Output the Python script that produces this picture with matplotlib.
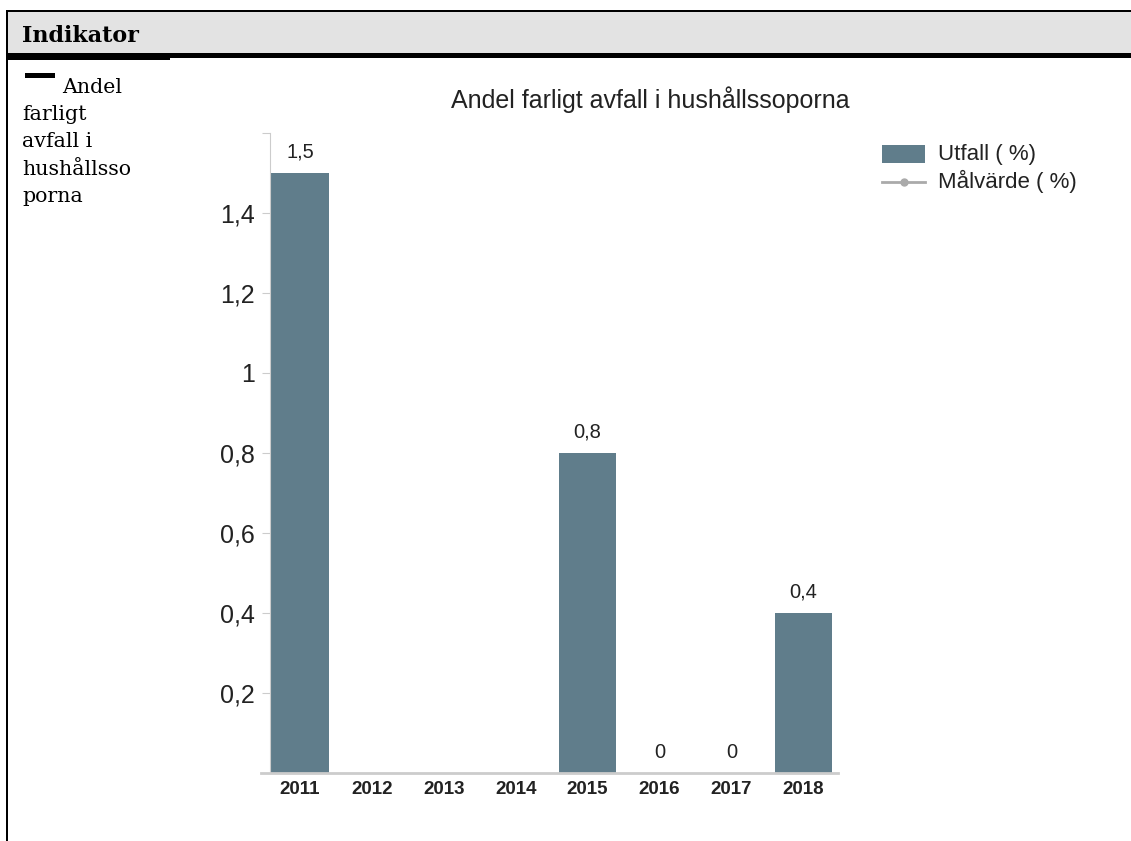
import matplotlib
matplotlib.use("Agg")
import matplotlib.pyplot as plt
from matplotlib.patches import Rectangle

# data
years = ["2011", "2012", "2013", "2014", "2015", "2016", "2017", "2018"]
utfall = [1.5, None, None, None, 0.8, 0, 0, 0.4]
ytick_values = [0.2, 0.4, 0.6, 0.8, 1.0, 1.2, 1.4]
ytick_labels = ["0,2", "0,4", "0,6", "0,8", "1", "1,2", "1,4"]
title = "Andel farligt avfall i hushållssoporna"
legend_labels = ["Utfall ( %)", "Målvärde ( %)"]
header = "Indikator"
side_lines = ["Andel", "farligt", "avfall i", "hushållsso", "porna"]

W, H = 1131, 841
bar_color = "#607D8B"
grey = "#cccccc"
sans = "Liberation Sans"
serif = "DejaVu Serif"
txt = "#222222"


def px_box(x0, y0, x1, y1):
    # pixel box (top-left origin) -> figure fraction [left, bottom, width, height]
    return [x0 / W, 1 - y1 / H, (x1 - x0) / W, (y1 - y0) / H]


fig = plt.figure(figsize=(W / 100, H / 100), dpi=100)

# page frame: header band, left border, side text, legend
page = fig.add_axes([0, 0, 1, 1])
page.set_xlim(0, W)
page.set_ylim(H, 0)
page.axis("off")
page.add_patch(Rectangle((7, 11), W, 43, facecolor="#e3e3e3", edgecolor="none"))
page.add_patch(Rectangle((6, 10), W, 2, facecolor="black", edgecolor="none"))
page.add_patch(Rectangle((6, 53), W, 4.5, facecolor="black", edgecolor="none"))
page.add_patch(Rectangle((6, 57), 164, 2.5, facecolor="black", edgecolor="none"))
page.add_patch(Rectangle((6, 10), 2, H, facecolor="black", edgecolor="none"))
page.text(22, 42, header, fontsize=16, fontweight="bold", family=serif,
          va="baseline", ha="left")

page.add_patch(Rectangle((25, 73), 30, 5, facecolor="black", edgecolor="none"))
for i, line in enumerate(side_lines):
    page.text(62 if i == 0 else 22, 93 + 27.2 * i, line, fontsize=14.8, family=serif,
              va="baseline", ha="left")

page.text(650, 108, title, ha="center", va="baseline", fontsize=18, family=sans, color=txt)

page.add_patch(Rectangle((882, 145), 43, 18, facecolor=bar_color, edgecolor="none"))
page.text(938, 154, legend_labels[0], fontsize=16, family=sans, va="center", color=txt)
page.plot([882, 925], [182, 182], color="#aaaaaa", lw=2)
page.plot([903.5], [182], marker="o", markersize=5, color="#aaaaaa")
page.text(938, 181, legend_labels[1], fontsize=16, family=sans, va="center", color=txt)

# chart
ax = fig.add_axes(px_box(261, 133, 838, 773))
ax.spines["left"].set_position(("data", -0.417))
x = list(range(len(years)))
vals = [v if v is not None else 0 for v in utfall]
ax.bar(x, vals, width=0.8, color=bar_color, edgecolor="none")
for xi, v in zip(x, utfall):
    if v is None:
        continue
    lab = ("%g" % v).replace(".", ",")
    ax.annotate(lab, (xi, v), xytext=(0, 11), textcoords="offset points",
                ha="center", va="baseline", fontsize=14.5, family=sans, color=txt)

ax.set_xlim(-0.542, 7.483)
ax.set_ylim(0, 1.6)
ax.set_xticks(x)
ax.set_xticklabels(years, fontsize=13.5, fontweight="bold", family=sans, color=txt)
ax.set_yticks(ytick_values + [1.6])
ax.set_yticklabels(ytick_labels + [""], fontsize=18, family=sans, color=txt)
ax.tick_params(axis="x", length=0, pad=6)
ax.tick_params(axis="y", length=6, color=grey, pad=5)
for s in ["top", "right"]:
    ax.spines[s].set_visible(False)
ax.spines["left"].set_color(grey)
ax.spines["bottom"].set_color(grey)
ax.spines["bottom"].set_linewidth(2)

fig.savefig("out.png", dpi=100)
